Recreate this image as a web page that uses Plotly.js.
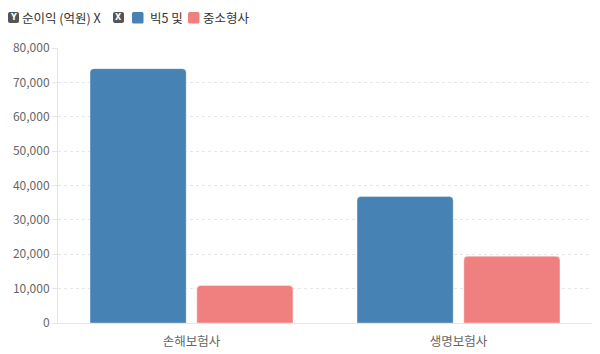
<!DOCTYPE html>
<html>
<head>
<meta charset="utf-8">
<script src="https://cdn.plot.ly/plotly-3.0.1.min.js"></script>
<style>
html,body{margin:0;padding:0;background:#fff;}
#chart{width:600px;height:354px;}
</style>
</head>
<body>
<div id="chart"></div>
<script>
// Data
const categories = ['손해보험사', '생명보험사'];
const seriesNames = ['빅5 및', '중소형사'];
const big5Values = [74000, 36800];
const smallMidValues = [10900, 19400];
const seriesColors = ['#4682B4', '#F08080'];
const yTickVals = [0, 10000, 20000, 30000, 40000, 50000, 60000, 70000, 80000];
const yTickText = ['0', '10,000', '20,000', '30,000', '40,000', '50,000', '60,000', '70,000', '80,000'];
const yLabel = '순이익 (억원) X';

const FONT = '"Noto Sans CJK KR", "Noto Sans", sans-serif';
const L = 58, W = 534, T = 48, H = 275;
const px = v => (v - L) / W;
const py = v => 1 + (T - v) / H;

const traces = [big5Values, smallMidValues].map((vals, i) => ({
  type: 'bar',
  x: categories,
  y: vals,
  name: seriesNames[i],
  marker: {color: seriesColors[i], cornerradius: 4, line: {width: 1, color: 'rgba(255,255,255,0.35)'}},
  showlegend: false,
  hoverinfo: 'x+y+name'
}));

const shapes = [];
const annotations = [];
function roundRect(x0, y0, x1, y1, r) {
  // converted to paper coords
  const X = v => px(v), Y = v => py(v);
  return `M${X(x0 + r)},${Y(y0)} L${X(x1 - r)},${Y(y0)} Q${X(x1)},${Y(y0)} ${X(x1)},${Y(y0 + r)} ` +
    `L${X(x1)},${Y(y1 - r)} Q${X(x1)},${Y(y1)} ${X(x1 - r)},${Y(y1)} L${X(x0 + r)},${Y(y1)} ` +
    `Q${X(x0)},${Y(y1)} ${X(x0)},${Y(y1 - r)} L${X(x0)},${Y(y0 + r)} Q${X(x0)},${Y(y0)} ${X(x0 + r)},${Y(y0)} Z`;
}
function badge(letter, xpx) {
  shapes.push({type: 'path', xref: 'paper', yref: 'paper', path: roundRect(xpx, 12, xpx + 11, 23, 2),
    fillcolor: '#555', line: {width: 0}});
  annotations.push({
    xref: 'paper', yref: 'paper',
    x: px(xpx + 5.5), y: py(17.5),
    xanchor: 'center', yanchor: 'middle',
    text: '<b>' + letter + '</b>', showarrow: false,
    font: {family: '"DejaVu Sans", sans-serif', size: 8, color: '#fff'}
  });
}
function label(text, xpx) {
  annotations.push({
    xref: 'paper', yref: 'paper',
    x: px(xpx), y: py(17.5),
    xanchor: 'left', yanchor: 'middle',
    text: text, showarrow: false, borderpad: 0,
    font: {family: FONT, size: 12.5, color: '#333'}
  });
}
badge('Y', 8);
label(yLabel, 21);
badge('X', 113);
const legendX = [132, 188];
const legendTextX = [149, 202];
seriesNames.forEach((n, i) => {
  const x0 = legendX[i];
  shapes.push({
    type: 'path', xref: 'paper', yref: 'paper',
    path: roundRect(x0, 12, x0 + 11.5, 23.5, 1.5),
    fillcolor: seriesColors[i], line: {width: 0}
  });
  label(n, legendTextX[i]);
});

const layout = {
  width: 600, height: 354,
  margin: {l: L, r: 600 - L - W, t: T, b: 354 - T - H},
  paper_bgcolor: '#fff', plot_bgcolor: '#fff',
  barmode: 'group', bargap: 0.2, bargroupgap: 0.1,
  font: {family: FONT, size: 12, color: '#666'},
  xaxis: {
    type: 'category',
    showline: true, linecolor: '#e6e6e6', linewidth: 1,
    showgrid: false, ticks: 'outside', ticklen: 7, tickcolor: 'rgba(0,0,0,0)',
    tickfont: {size: 12.5, color: '#666'},
    fixedrange: true
  },
  yaxis: {
    range: [0, 80000],
    tickvals: yTickVals, ticktext: yTickText,
    showline: true, linecolor: '#e6e6e6', linewidth: 1,
    showgrid: true, gridcolor: '#e6e6e6', griddash: '3px,3px', gridwidth: 1,
    zeroline: false,
    ticks: 'outside', ticklen: 5, tickcolor: '#e6e6e6',
    tickfont: {size: 12, color: '#666'},
    fixedrange: true
  },
  shapes: shapes,
  annotations: annotations
};

Plotly.newPlot('chart', traces, layout, {displayModeBar: false, staticPlot: true});
</script>
</body>
</html>
